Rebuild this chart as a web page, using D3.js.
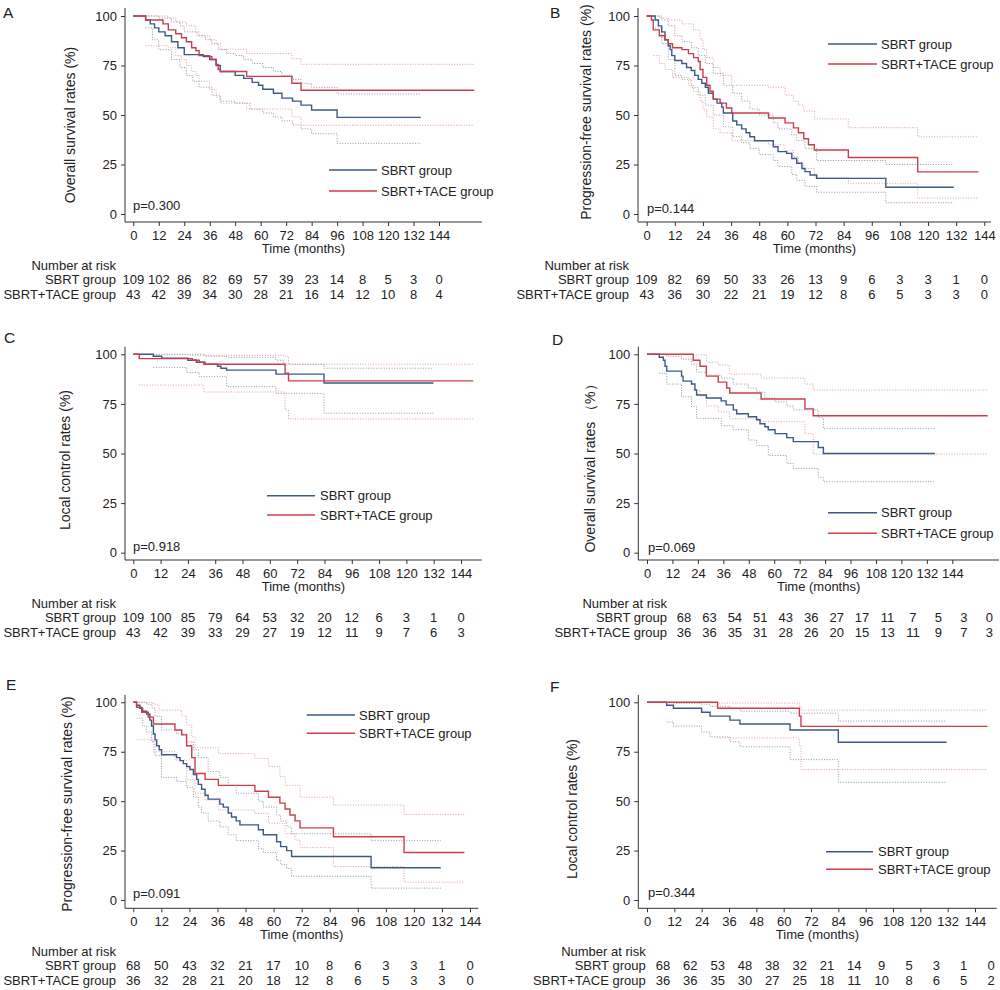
<!DOCTYPE html>
<html><head><meta charset="utf-8">
<script src="https://cdn.jsdelivr.net/npm/d3@7"></script>
<style>
body{margin:0;background:#fff;}
svg text{font-family:"Liberation Sans",Arial,sans-serif;fill:#222;}
</style></head>
<body>
<svg id="chart" width="1000" height="990"></svg>
<script>
// ---------- DATA ----------
const months = [0,12,24,36,48,60,72,84,96,108,120,132,144];
const yTicks = [0,25,50,75,100];
const groups = ["SBRT group","SBRT+TACE group"];
const panelLetters = ["A","B","C","D","E","F"];
const yTitles = ["Overall survival rates (%)","Progression-free survival rates (%)","Local control rates (%)",
                 "Overall survival rates （%）","Progression-free survival rates (%)","Local control rates (%)"];
const pValues = ["p=0.300","p=0.144","p=0.918","p=0.069","p=0.091","p=0.344"];

// Panel A - overall survival
const A_sbrt = [[0,100],[5.8,98],[8,96],[10,94],[12,92],[15,90],[18,87],[21,84],[24,80.5],[33,79.5],[36,78],[39,75],[41,72],[48,70],[52,68.5],[56,66.5],[59,65],[61,63],[66,61],[70,58.5],[75,57],[79,55],[84,52.5],[96,48.8],[135.4,48.8]];
const A_tace = [[0,100],[5.8,98],[14,96],[16.5,93],[20,91],[22.7,89],[25,87],[27.5,84],[29.5,82.5],[31,80],[36,79.5],[37,78],[39,75.5],[40,73],[41,72],[53.4,69.5],[74.7,66],[79,62.5],[160.6,62.5]];
const A_sbrt_hi = [[5.8,100],[12,99],[18,97],[22,95],[24,92],[30,90],[34,88],[37,86],[40,83],[44,81],[48,80],[52,78],[56,76],[61,74],[66,72],[70,70],[75,68],[79,66],[84,64],[96,60.6],[135.4,60.6]];
const A_sbrt_lo = [[5.8,94],[9,88],[12,83],[18,78],[22,74],[25,70],[28,67],[31,64],[37,60],[41,57],[48,56],[55,53],[61,51],[66,49],[70,47],[75,45],[79,43],[84,40.5],[96,35.7],[135.4,35.7]];
const A_tace_hi = [[0,100],[14,100],[16.5,99],[20,97],[25,95],[29.5,92],[31,90],[36,88],[39,86],[41,83.2],[53.4,81],[74.7,78.5],[79,75.6],[160.6,75.6]];
const A_tace_lo = [[5.8,85],[16.5,84],[20,80],[22.7,78],[25,75],[27.5,72],[29.5,70],[31,67],[36,63],[39,59],[41,56],[53.4,53],[74.7,49],[79,44.8],[160.6,44.8]];
const A_risk_sbrt = [109,102,86,82,69,57,39,23,14,8,5,3,0];
const A_risk_tace = [43,42,39,34,30,28,21,16,14,12,10,8,4];

// Panel B - progression-free survival
const B_sbrt = [[0,100],[3.6,98],[5,95],[6.4,92],[7.8,88],[9.2,85],[10,83],[10.7,80],[12,77.5],[15,76],[17,74],[19,72.5],[20.5,70],[22,68],[23.5,66],[25,64],[26.3,61],[28.4,58],[30,56],[32,54],[32.7,51],[36.7,47],[38.4,45],[40.5,43],[42.4,41],[44,39],[46,37],[54,34],[56,31.5],[59.7,30.6],[61.9,28],[64,25.6],[66.2,23],[67.5,21.4],[69.7,19.7],[72.5,18],[102,13.5],[131,13.5]];
const B_tace = [[0,100],[2,98],[2.8,93],[5.4,90],[7.8,88],[9.2,86],[11,84],[15,83],[17.8,81],[20,79],[22,77],[22.8,73],[24,69],[25.6,65],[27,62],[28.4,58],[31.3,56],[34,53.5],[36.3,51],[52,48.5],[59,46],[62.6,43.5],[64.7,41],[67,38],[69,35],[71.5,32.3],[86,28.5],[115.6,21.3],[141.5,21.3]];
const B_sbrt_hi = [[3.6,100],[6.4,98],[9.2,95],[12,90],[15,87],[19,84],[22,80],[25,76],[28.4,71],[32.7,65],[36.7,61],[40.5,57],[44,53],[48,50],[54,46],[56,43],[61.9,40],[64,37],[67.5,33],[72.5,27],[102,25],[131,25]];
const B_sbrt_lo = [[3.6,94],[6.4,86],[9.2,78],[12,70],[15,68],[19,64],[22,60],[25,55],[28.4,50],[32.7,44],[36.7,39],[40.5,36],[44,33],[48,30],[54,27],[56,24],[61.9,20],[64,17],[67.5,14],[72.5,11],[102,5.7],[131,5.7]];
const B_tace_hi = [[0,100],[5.4,99],[9.2,98],[15,96],[20,93],[22.8,88],[24,83],[25.6,79],[28.4,74],[31.3,70],[36.3,65],[52,64],[59,60],[62.6,57],[64.7,55],[67,52],[71.5,48],[86,43.6],[115.6,39],[141.5,39]];
const B_tace_lo = [[2.8,80],[5.4,76],[7.8,73],[11,69],[17.8,65],[20,62],[22.8,57],[24,53],[25.6,49],[28.4,43],[31.3,41],[36.3,37],[52,35],[59,32],[62.6,29],[64.7,26],[67,23],[71.5,18.5],[86,15.5],[115.6,8],[141.5,8]];
const B_risk_sbrt = [109,82,69,50,33,26,13,9,6,3,3,1,0];
const B_risk_tace = [43,36,30,22,21,19,12,8,6,5,3,3,0];

// Panel C - local control
const C_sbrt = [[0,100],[8.8,99],[12.5,98],[24,97],[27.7,96],[31.5,95],[37,94],[38.5,93],[41,92],[62.7,90],[83.8,85.5],[131.9,85.5]];
const C_tace = [[0,100],[2.6,97.8],[26,97],[29,96],[31,95],[66.7,90.5],[68.2,86.6],[149.4,86.6]];
const C_sbrt_hi = [[8.8,100],[31.5,99],[41,98.5],[62.7,97],[66,95],[83.8,93],[131.9,93]];
const C_sbrt_lo = [[8.8,93.4],[23.5,90.8],[29,88.7],[41,83.7],[62.7,80.3],[83.8,70.3],[131.9,70.3]];
const C_tace_hi = [[0,100],[2.6,99.8],[26,99.5],[66.7,99],[68.2,95],[149.4,95]];
const C_tace_lo = [[2.6,84.5],[31,81],[66.7,72],[68.2,67.4],[149.4,67.4]];
const C_risk_sbrt = [109,100,85,79,64,53,32,20,12,6,3,1,0];
const C_risk_tace = [43,42,39,33,29,27,19,12,11,9,7,6,3];

// Panel D - overall survival (matched)
const D_sbrt = [[0,100],[5.8,98.5],[7.7,97],[8.5,94],[9.3,91.5],[16.3,89],[17,86.5],[21,85],[22.6,82],[23.4,79.5],[28,78],[35,76.5],[37.3,74.5],[40.7,72],[42.3,70],[47.8,68.5],[51.7,67],[53.3,65],[55.6,63.5],[57.2,62],[60.4,60],[65.9,58],[69,56],[80.8,53],[83.2,50],[135.8,50]];
const D_tace = [[0,100],[21.8,97],[25,94],[28,89],[33.6,86],[37.6,83],[39,80.5],[53.8,77.5],[74.5,72.5],[78.4,69],[160.7,69]];
const D_sbrt_hi = [[5.8,100],[9.3,99],[16.3,97.5],[21,95],[23.4,91],[28,89.5],[35,88],[40.7,85],[47.8,83],[51.7,81],[55.6,78],[60.4,76],[65.9,74],[69,72],[80.8,68],[83.2,62.5],[135.8,62.5]];
const D_sbrt_lo = [[5.8,90.4],[9.3,85],[16.3,78.6],[21,73.6],[23.4,67.7],[35,64],[40.7,62],[47.8,56.8],[51.7,54],[57.2,49],[65.9,45],[69,42.5],[80.8,38],[83.2,35.8],[135.8,35.8]];
const D_tace_hi = [[0,100],[21.8,99.7],[28,96],[33.6,94.6],[39,90],[53.8,88],[74.5,85],[78.4,82],[160.7,82]];
const D_tace_lo = [[21.8,82],[25,79],[28,74],[33.6,71],[39,67.5],[53.8,66],[74.5,60],[78.4,49.7],[160.7,49.7]];
const D_risk_sbrt = [68,63,54,51,43,36,27,17,11,7,5,3,0];
const D_risk_tace = [36,36,35,31,28,26,20,15,13,11,9,7,3];

// Panel E - progression-free survival (matched)
const E_sbrt = [[0,100],[1.4,98.5],[2.8,97],[4,95.5],[5.7,94],[7.1,91],[7.8,88],[8.6,84],[9.3,81],[10,78],[11.1,76],[12.1,73.5],[18.5,72],[20,70.5],[21.4,69],[22.8,67.5],[24.2,66],[25.7,63.5],[27.1,61],[27.8,58.5],[29.2,56],[30.7,53],[32,51],[37,48.5],[38.5,47],[40.6,44],[42,42],[44,40],[45.6,38],[53.5,35.5],[55.6,33],[61.3,29.5],[63,27],[65.6,25],[67.7,22],[101.7,16.3],[131.5,16.3]];
const E_tace = [[0,100],[1.4,97.5],[3.6,95],[6.4,92.5],[8.6,89],[17.8,86],[20.7,83.5],[22.8,78],[25,72],[26.4,64],[30.7,61],[36.4,58],[52,55],[57.8,52],[62.7,49],[64.9,46],[67,43],[69.2,40],[71.3,36.5],[85.6,32],[115.8,24],[141.6,24]];
const E_sbrt_hi = [[1.4,100],[5.7,99],[8,97],[9.3,93],[12.1,86],[18.5,84],[22.8,80],[25.7,76],[27.8,72],[32,65],[37,62],[40.6,58],[44,54],[53.5,50],[55.6,47],[61.3,43],[63,40],[65.6,37],[67.7,33.5],[101.7,30],[131.5,30]];
const E_sbrt_lo = [[1.4,92],[4,88],[5.7,85],[7.8,80],[9.3,73],[12.1,62],[18.5,60],[22.8,57],[25.7,52],[27.8,47],[29.2,44],[32,40],[37,37],[40.6,33],[44,30],[53.5,26],[55.6,24],[61.3,20],[63,18],[65.6,16],[67.7,12],[101.7,6],[131.5,6]];
const E_tace_hi = [[0,100],[8.6,99],[11,96],[20.7,93],[22.8,88.5],[25,82.6],[26.4,77],[36.4,74],[52,71.6],[57.8,67.5],[62.7,62.4],[64.9,58],[71.3,52],[85.6,48],[115.8,43.3],[141.6,43.3]];
const E_tace_lo = [[1.4,81],[8.6,75],[17.8,70.8],[22.8,60.7],[26.4,54],[30.7,50.6],[36.4,45.5],[52,43.8],[57.8,38.8],[64.9,33.7],[69.2,30.3],[71.3,26.5],[85.6,16.9],[115.8,9],[141.6,9]];
const E_risk_sbrt = [68,50,43,32,21,17,10,8,6,3,3,1,0];
const E_risk_tace = [36,32,28,21,20,18,12,8,6,5,3,3,0];

// Panel F - local control (matched)
const F_sbrt = [[0,100],[8.6,98.5],[11.6,97],[24,95],[27.7,93],[36.4,91],[40.8,89],[62.8,86],[84,79.8],[131.5,79.8]];
const F_tace = [[0,100],[31,97],[66.9,93],[67.6,87.8],[149.5,87.8]];
const F_sbrt_hi = [[8.6,100],[11.6,99.5],[24,99],[27.7,98],[36.4,97],[40.8,95.5],[62.8,94.5],[84,90.5],[131.5,90.5]];
const F_sbrt_lo = [[8.6,90],[11.6,88],[24,85],[27.7,82.5],[36.4,80],[40.8,77.5],[62.8,71],[84,59.5],[131.5,59.5]];
const F_tace_hi = [[0,100],[31,99.6],[66.9,98],[67.6,96],[149.5,96]];
const F_tace_lo = [[31,82],[66.9,78],[67.6,66],[149.5,66]];
const F_risk_sbrt = [68,62,53,48,38,32,21,14,9,5,3,1,0];
const F_risk_tace = [36,36,35,30,27,25,18,11,10,8,6,5,2];

// ---------- LAYOUT ----------
const layout = [
 {ax:125,  x0:133.3, x144:439,   xEnd:482,   y100:16,    y0:214,   axisY:222,   yTop:8,     yl:[70,125],  lt:[3,17.5],  lg:{x1:329,x2:377,y1:170,y2:191,tx:381}, p:[133,209.5], rr:116, rOff:0},
 {ax:638,  x0:646.7, x144:984.3, xEnd:991,   y100:16,    y0:214,   axisY:222,   yTop:8,     yl:[586,112], lt:[550,18],  lg:{x1:828,x2:877,y1:44,y2:64,tx:881},   p:[647,212.5], rr:629, rOff:0},
 {ax:125,  x0:133.3, x144:461,   xEnd:481.7, y100:354.3, y0:552.7, axisY:560,   yTop:346.7, yl:[65,460],  lt:[4,343],   lg:{x1:267,x2:315,y1:495.7,y2:515,tx:320}, p:[133,550.5], rr:116, rOff:0},
 {ax:638.3,x0:647,   x144:952.3, xEnd:999,   y100:354.3, y0:552.7, axisY:560,   yTop:346.7, yl:[590,465], lt:[552,345], lg:{x1:828,x2:877,y1:512.7,y2:533.3,tx:881}, p:[648,551.5], rr:667, rOff:37},
 {ax:125,  x0:133.3, x144:470,   xEnd:478.3, y100:702.3, y0:900,   axisY:908.3, yTop:695,   yl:[67,804],  lt:[6,690],   lg:{x1:306.7,x2:355,y1:715,y2:733.3,tx:359}, p:[133,897.5], rr:116, rOff:0},
 {ax:638.3,x0:647,   x144:975,   xEnd:996.7, y100:702.3, y0:900,   axisY:908.3, yTop:695,   yl:[572,809], lt:[550,692], lg:{x1:826,x2:873,y1:851.7,y2:869.3,tx:878}, p:[648,897], rr:645.7, rOff:16}
];

const panelData = [
 {s:A_sbrt,t:A_tace,sh:A_sbrt_hi,sl:A_sbrt_lo,th:A_tace_hi,tl:A_tace_lo,rs:A_risk_sbrt,rt:A_risk_tace},
 {s:B_sbrt,t:B_tace,sh:B_sbrt_hi,sl:B_sbrt_lo,th:B_tace_hi,tl:B_tace_lo,rs:B_risk_sbrt,rt:B_risk_tace},
 {s:C_sbrt,t:C_tace,sh:C_sbrt_hi,sl:C_sbrt_lo,th:C_tace_hi,tl:C_tace_lo,rs:C_risk_sbrt,rt:C_risk_tace},
 {s:D_sbrt,t:D_tace,sh:D_sbrt_hi,sl:D_sbrt_lo,th:D_tace_hi,tl:D_tace_lo,rs:D_risk_sbrt,rt:D_risk_tace},
 {s:E_sbrt,t:E_tace,sh:E_sbrt_hi,sl:E_sbrt_lo,th:E_tace_hi,tl:E_tace_lo,rs:E_risk_sbrt,rt:E_risk_tace},
 {s:F_sbrt,t:F_tace,sh:F_sbrt_hi,sl:F_sbrt_lo,th:F_tace_hi,tl:F_tace_lo,rs:F_risk_sbrt,rt:F_risk_tace}
];

const BLUE = "#3b5a85", RED = "#cc3f4a", BLUE_CI = "#8e95a2", RED_CI = "#e39aa3";
const FS = 13;
const FONT = '"Liberation Sans",Arial,sans-serif';
const svg = d3.select("#chart");

layout.forEach((L, i) => {
  const D = panelData[i];
  const g = svg.append("g");
  const x = d3.scaleLinear().domain([0,144]).range([L.x0, L.x144]);
  const y = d3.scaleLinear().domain([0,100]).range([L.y0, L.y100]);

  // axes spines
  g.append("line").attr("x1",L.ax).attr("x2",L.ax).attr("y1",L.yTop).attr("y2",L.axisY)
    .attr("stroke","#333").attr("stroke-width",1);
  g.append("line").attr("x1",L.ax).attr("x2",L.xEnd).attr("y1",L.axisY).attr("y2",L.axisY)
    .attr("stroke","#333").attr("stroke-width",1);

  const xa = g.append("g").attr("transform",`translate(0,${L.axisY})`)
    .call(d3.axisBottom(x).tickValues(months).tickSize(4).tickPadding(4.5).tickFormat(d3.format("d")));
  xa.select(".domain").remove();
  xa.selectAll("line").attr("stroke","#333");
  xa.selectAll("text").attr("font-size",FS).attr("fill","#222").style("font-family",FONT);

  const ya = g.append("g").attr("transform",`translate(${L.ax},0)`)
    .call(d3.axisLeft(y).tickValues(yTicks).tickSize(4).tickPadding(4));
  ya.select(".domain").remove();
  ya.selectAll("line").attr("stroke","#333");
  ya.selectAll("text").attr("font-size",FS).attr("fill","#222").style("font-family",FONT);

  // titles
  g.append("text").attr("x",(L.ax+L.xEnd)/2).attr("y",L.axisY+31)
    .attr("text-anchor","middle").attr("font-size",FS).text("Time (months)");
  g.append("text").attr("transform",`translate(${L.yl[0]},${L.yl[1]}) rotate(-90)`)
    .attr("text-anchor","middle").attr("dominant-baseline","central")
    .attr("font-size",14).text(yTitles[i]);
  g.append("text").attr("x",L.lt[0]).attr("y",L.lt[1]).attr("font-size",15.5).text(panelLetters[i]);
  g.append("text").attr("x",L.p[0]).attr("y",L.p[1]).attr("font-size",FS).text(pValues[i]);

  // CI dotted lines
  const line = d3.line().x(d=>x(d[0])).y(d=>y(d[1])).curve(d3.curveStepAfter);
  [[D.sh,BLUE_CI],[D.sl,BLUE_CI],[D.th,RED_CI],[D.tl,RED_CI]].forEach(([arr,c]) => {
    g.append("path").attr("d",line(arr)).attr("fill","none").attr("stroke",c)
      .attr("stroke-width",1).attr("stroke-dasharray","1,1.6");
  });
  // KM curves
  g.append("path").attr("d",line(D.s)).attr("fill","none").attr("stroke",BLUE).attr("stroke-width",1.4);
  g.append("path").attr("d",line(D.t)).attr("fill","none").attr("stroke",RED).attr("stroke-width",1.4);

  // legend
  const lg = L.lg;
  [[lg.y1,BLUE,groups[0]],[lg.y2,RED,groups[1]]].forEach(([yy,c,t]) => {
    g.append("line").attr("x1",lg.x1).attr("x2",lg.x2).attr("y1",yy).attr("y2",yy)
      .attr("stroke",c).attr("stroke-width",1.4);
    g.append("text").attr("x",lg.tx).attr("y",yy+4.5).attr("font-size",FS).text(t);
  });

  // number at risk
  g.append("text").attr("x",L.rr).attr("y",L.axisY+47.5).attr("text-anchor","end")
    .attr("font-size",FS).text("Number at risk");
  [[D.rs,groups[0],62],[D.rt,groups[1],77]].forEach(([arr,name,off]) => {
    g.append("text").attr("x",L.rr).attr("y",L.axisY+off).attr("text-anchor","end")
      .attr("font-size",FS).text(name);
    g.selectAll(null).data(arr).enter().append("text")
      .attr("x",(d,k)=>x(months[k]) + L.rOff).attr("y",L.axisY+off)
      .attr("text-anchor","middle").attr("font-size",FS).text(d=>d);
  });
});
</script>
</body></html>
